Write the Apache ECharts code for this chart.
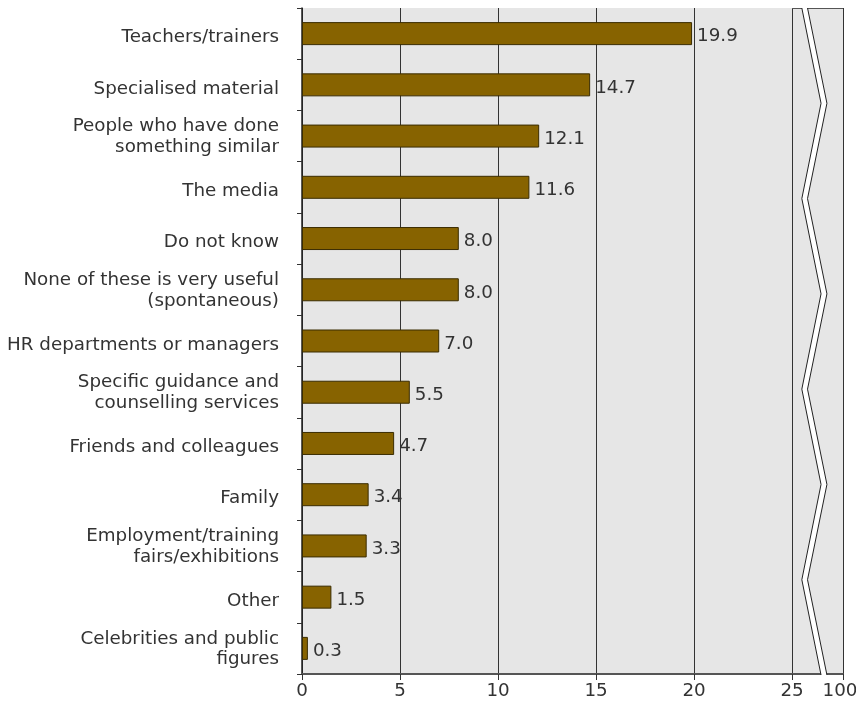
<!DOCTYPE html>
<html>
<head>
<meta charset="utf-8">
<script src="https://cdn.jsdelivr.net/npm/echarts@6/dist/echarts.min.js"></script>
<style>
  html, body { margin: 0; padding: 0; background: #fff; }
  #chart { width: 856px; height: 701px; }
</style>
</head>
<body>
<div id="chart"></div>
<script>
// Useful sources of information (share, %)
const categories = [
  'Teachers/trainers',
  'Specialised material',
  'People who have done\nsomething similar',
  'The media',
  'Do not know',
  'None of these is very useful\n(spontaneous)',
  'HR departments or managers',
  'Specific guidance and\ncounselling services',
  'Friends and colleagues',
  'Family',
  'Employment/training\nfairs/exhibitions',
  'Other',
  'Celebrities and public\nfigures'
];
const values = [19.9, 14.7, 12.1, 11.6, 8.0, 8.0, 7.0, 5.5, 4.7, 3.4, 3.3, 1.5, 0.3];
// Axis runs 0..25 on a linear scale, then jumps to 100 after a break
const tickValues = [0, 5, 10, 15, 20, 25];
const axisEndLabel = '100';

const FONT = '"DejaVu Sans", Verdana, sans-serif';
const LABEL_SIZE = 18.3;
const AXIS_END = 27.6;          // scale value where the "100" tick sits
const BREAK_SEGMENTS = 7;       // zigzag segments from top to bottom
const BREAK_INNER = [25.50, 25.79]; // band edges at the inner vertices
const BREAK_OUTER = [26.48, 26.78]; // band edges at the outer vertices

const chart = echarts.init(document.getElementById('chart'), null, { renderer: 'canvas' });

// White zigzag band marking the scale break between 25 and 100
function renderBreak(params, api) {
  const cs = params.coordSys;
  const top = cs.y, bottom = cs.y + cs.height + 1;
  const px = v => api.coord([v, 0])[0];
  const left = [], right = [];
  for (let i = 0; i <= BREAK_SEGMENTS; i++) {
    const y = top + (bottom - top) * i / BREAK_SEGMENTS;
    const edges = i % 2 === 0 ? BREAK_INNER : BREAK_OUTER;
    left.push([px(edges[0]), y]);
    right.push([px(edges[1]), y]);
  }
  const stroke = { stroke: '#222', lineWidth: 1, fill: null };
  return {
    type: 'group',
    children: [
      { type: 'line', shape: { x1: px(25), y1: top + 0.5, x2: px(AXIS_END), y2: top + 0.5 },
        style: { stroke: '#555', lineWidth: 1 } },
      { type: 'polygon', shape: { points: left.concat(right.slice().reverse()) },
        style: { fill: '#ffffff', stroke: null } },
      { type: 'polyline', shape: { points: left }, style: stroke },
      { type: 'polyline', shape: { points: right }, style: stroke }
    ]
  };
}

// Category label: first line carries a little top padding so the block sits slightly low
function categoryLabel(name) {
  const lines = name.split('\n');
  const head = (lines.length === 1 ? '{s|' : '{m|') + lines[0] + '}';
  return [head].concat(lines.slice(1).map(l => '{b|' + l + '}')).join('\n');
}
const labelText = { fontFamily: FONT, fontSize: LABEL_SIZE, color: '#333', lineHeight: 22 };

chart.setOption({
  animation: false,
  backgroundColor: '#ffffff',
  grid: {
    left: 302, right: 13, top: 8, bottom: 27,
    outerBoundsMode: 'none', containLabel: false,
    show: true, backgroundColor: '#e6e6e6', borderWidth: 0
  },
  xAxis: {
    type: 'value',
    min: 0, max: AXIS_END, interval: 5,
    axisLine: { show: true, lineStyle: { color: '#555', width: 2 } },
    axisTick: { show: true, length: 6, lineStyle: { color: '#333' } },
    splitLine: { show: true, lineStyle: { color: '#333', width: 1 } },
    axisLabel: {
      color: '#333', fontFamily: FONT, fontSize: LABEL_SIZE, margin: 8,
      showMaxLabel: true,
      formatter: v => (Math.abs(v - AXIS_END) < 1e-6 ? '{e|' + axisEndLabel + '}'
        : (tickValues.indexOf(v) >= 0 ? String(v) : '')),
      rich: {
        e: { fontFamily: FONT, fontSize: LABEL_SIZE, color: '#333', padding: [0, 6, 0, 0] }
      }
    }
  },
  yAxis: {
    type: 'category',
    data: categories,
    inverse: true,
    axisLine: { show: true, lineStyle: { color: '#222', width: 1.5 } },
    axisTick: { show: true, length: 5, lineStyle: { color: '#333' } },
    axisLabel: {
      color: '#333', fontFamily: FONT, fontSize: LABEL_SIZE, lineHeight: 22,
      align: 'right', margin: 23,
      formatter: categoryLabel,
      rich: {
        s: Object.assign({ padding: [8, 0, 0, 0] }, labelText),
        m: Object.assign({ padding: [3, 0, 0, 0] }, labelText),
        b: labelText
      }
    }
  },
  series: [{
    type: 'bar',
    data: values,
    barWidth: 23,
    itemStyle: { color: '#876300', borderColor: '#3a2c00', borderWidth: 1 },
    label: {
      show: true, position: 'right', distance: 5, offset: [0, 3],
      color: '#333', fontFamily: FONT, fontSize: LABEL_SIZE,
      formatter: p => p.value.toFixed(1)
    }
  }, {
    type: 'custom',
    data: [[0, 0]],
    renderItem: renderBreak,
    silent: true,
    clip: false,
    z: 5
  }]
});
</script>
</body>
</html>
